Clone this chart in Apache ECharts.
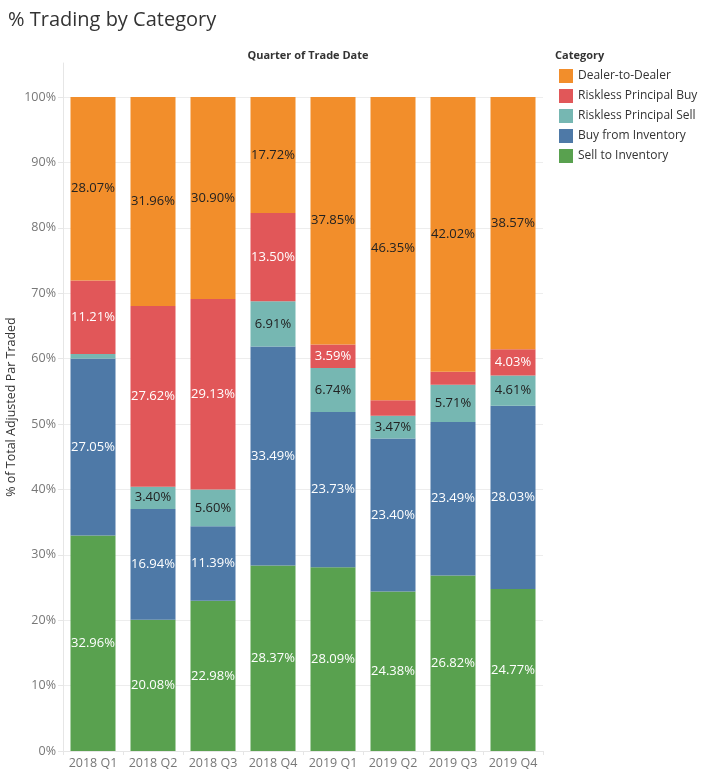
<!DOCTYPE html>
<html>
<head>
<meta charset="utf-8">
<title>% Trading by Category</title>
<script src="https://cdn.jsdelivr.net/npm/echarts@6/dist/echarts.min.js"></script>
<style>
  html, body { margin: 0; padding: 0; background: #fff; }
  #my_chart { width: 702px; height: 772px; }
</style>
</head>
<body>
<div id="my_chart"></div>
<script>
// quarters on the x axis
var quarters = ['2018 Q1', '2018 Q2', '2018 Q3', '2018 Q4', '2019 Q1', '2019 Q2', '2019 Q3', '2019 Q4'];

// % of total adjusted par traded, stacked bottom to top
var sellToInventory = [32.96, 20.08, 22.98, 28.37, 28.09, 24.38, 26.82, 24.77];
var buyFromInventory = [27.05, 16.94, 11.39, 33.49, 23.73, 23.40, 23.49, 28.03];
var risklessSell = [0.71, 3.40, 5.60, 6.91, 6.74, 3.47, 5.71, 4.61];
var risklessBuy = [11.21, 27.62, 29.13, 13.50, 3.59, 2.40, 1.96, 4.03];
var dealerToDealer = [28.07, 31.96, 30.90, 17.72, 37.85, 46.35, 42.02, 38.57];

var legendOrder = ['Dealer-to-Dealer', 'Riskless Principal Buy', 'Riskless Principal Sell', 'Buy from Inventory', 'Sell to Inventory'];

var font = 'Open Sans';

// labels only for segments big enough to hold them
function pctLabel(p) {
    return p.value >= 3 ? p.value.toFixed(2) + '%' : '';
}

function barSeries(name, data, color, labelColor) {
    return {
        name: name,
        type: 'bar',
        stack: 'total',
        barWidth: 45,
        data: data,
        itemStyle: { color: color },
        label: {
            show: true,
            position: 'inside',
            formatter: pctLabel,
            color: labelColor,
            fontFamily: font,
            fontSize: 13
        },
        emphasis: { disabled: true }
    };
}

var gridColors = [];
for (var i = 0; i < 11; i++) { gridColors.push('#ededed'); }
gridColors.push('transparent');

var myChart = echarts.init(document.getElementById('my_chart'));
var option = {
    animation: false,
    title: [
        {
            text: '% Trading by Category',
            left: 3,
            top: 5,
            textStyle: { fontFamily: font, fontSize: 20, fontWeight: 'normal', color: '#333' }
        },
        {
            text: 'Quarter of Trade Date',
            left: 303,
            top: 45,
            textAlign: 'center',
            textStyle: { fontFamily: font, fontSize: 11, fontWeight: 'bold', color: '#333' }
        },
        {
            text: 'Category',
            left: 550,
            top: 45,
            textStyle: { fontFamily: font, fontSize: 11, fontWeight: 'bold', color: '#333' }
        }
    ],
    legend: {
        data: legendOrder,
        orient: 'vertical',
        left: 554,
        top: 64,
        icon: 'rect',
        itemWidth: 14,
        itemHeight: 14,
        itemGap: 6,
        selectedMode: false,
        textStyle: { fontFamily: font, fontSize: 12, color: '#333' }
    },
    grid: {
        left: 63,
        right: 159,
        top: 63,
        bottom: 21,
        containLabel: false,
        outerBoundsMode: 'none'
    },
    xAxis: {
        type: 'category',
        data: quarters,
        axisLine: { lineStyle: { color: '#e6e6e6' } },
        axisTick: { show: true, length: 4, lineStyle: { color: '#e6e6e6' } },
        axisLabel: { interval: 0, fontFamily: font, fontSize: 12.5, color: '#777', margin: 6 }
    },
    yAxis: {
        type: 'value',
        min: 0,
        max: 105.2,
        interval: 10,
        name: '% of Total Adjusted Par Traded',
        nameLocation: 'middle',
        nameGap: 45,
        nameMoveOverlap: false,
        nameTextStyle: { fontFamily: font, fontSize: 12.5, color: '#333' },
        axisLine: { show: true, lineStyle: { color: '#e6e6e6' } },
        axisTick: { show: true, length: 5, lineStyle: { color: '#e6e6e6' } },
        axisLabel: {
            fontFamily: font,
            fontSize: 12.5,
            color: '#777',
            margin: 7,
            showMaxLabel: false,
            formatter: function (v) { return v % 10 === 0 ? v + '%' : ''; }
        },
        splitLine: { show: true, lineStyle: { color: gridColors } }
    },
    series: [
        barSeries('Sell to Inventory', sellToInventory, '#59A14F', '#fff'),
        barSeries('Buy from Inventory', buyFromInventory, '#4E79A7', '#fff'),
        barSeries('Riskless Principal Sell', risklessSell, '#76B7B2', '#222'),
        barSeries('Riskless Principal Buy', risklessBuy, '#E15759', '#fff'),
        barSeries('Dealer-to-Dealer', dealerToDealer, '#F28E2B', '#222')
    ]
};
myChart.setOption(option);
</script>
</body>
</html>
